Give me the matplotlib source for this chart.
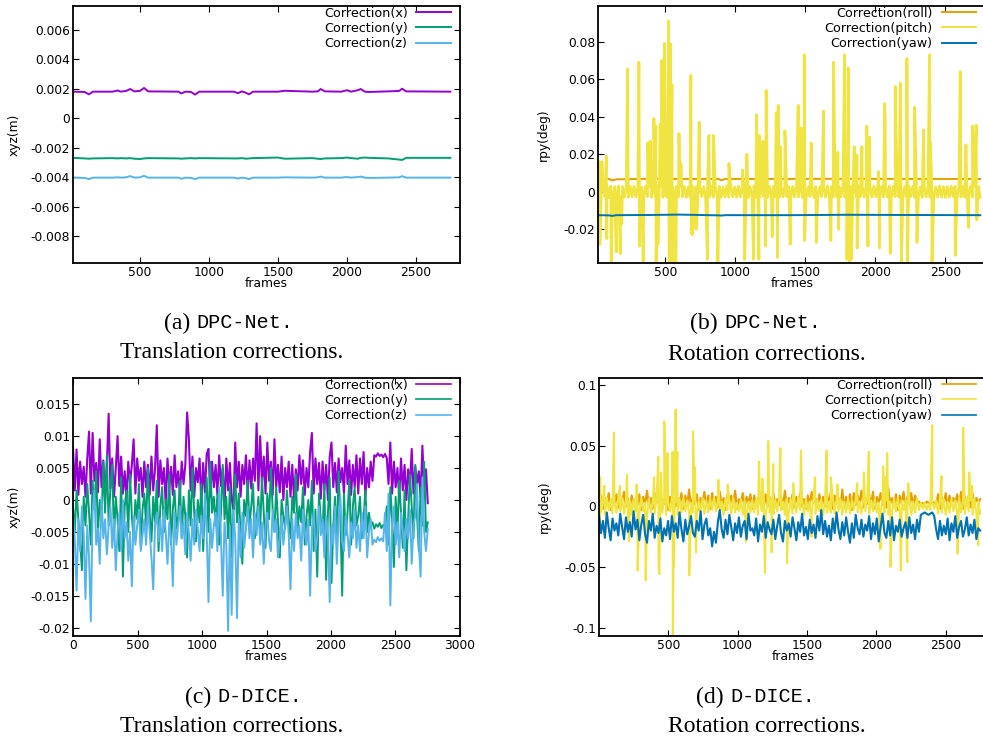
import numpy as np
import matplotlib
matplotlib.use("Agg")
import matplotlib.pyplot as plt
from matplotlib.ticker import FormatStrFormatter

plt.rcParams['font.family'] = 'DejaVu Sans'
plt.rcParams['axes.unicode_minus'] = False
plt.rcParams['path.simplify'] = False   # keep every wiggle of the noisy traces

# ---- (a) DPC-Net translation corrections (units of 1e-3 m) ----
a_frames = [15, 100, 130, 160, 300, 340, 360, 400, 430, 460, 500, 530, 560, 780, 800,
            830, 870, 900, 930, 1180, 1210, 1240, 1270, 1290, 1320, 1500, 1550, 1750,
            1790, 1810, 1840, 1960, 2000, 2030, 2080, 2100, 2130, 2160, 2300, 2380,
            2400, 2430, 2750]
a_x = [1.80, 1.78, 1.62, 1.80, 1.80, 1.88, 1.80, 1.85, 1.98, 1.82, 1.85, 2.05, 1.82,
       1.80, 1.68, 1.80, 1.78, 1.60, 1.80, 1.80, 1.70, 1.82, 1.72, 1.62, 1.80, 1.80,
       1.86, 1.80, 1.82, 1.98, 1.82, 1.80, 1.90, 1.80, 1.90, 1.98, 1.80, 1.78, 1.82,
       1.85, 2.00, 1.82, 1.80]
a_y = [-2.68, -2.72, -2.74, -2.72, -2.70, -2.72, -2.70, -2.72, -2.70, -2.74,
       -2.76, -2.72, -2.70, -2.72, -2.74, -2.72, -2.70, -2.72, -2.70, -2.72,
       -2.72, -2.70, -2.74, -2.72, -2.70, -2.66, -2.74, -2.70, -2.74, -2.76,
       -2.72, -2.70, -2.66, -2.70, -2.74, -2.68, -2.66, -2.68, -2.72, -2.80,
       -2.82, -2.68, -2.68]
a_z = [-4.02, -4.04, -4.12, -4.02, -4.02, -4.00, -4.02, -4.00, -3.92, -4.02,
       -4.00, -3.90, -4.02, -4.02, -4.10, -4.02, -4.04, -4.12, -4.02, -4.02,
       -4.08, -4.02, -4.06, -4.12, -4.02, -4.02, -4.00, -4.02, -4.00, -3.95,
       -4.02, -4.02, -3.98, -4.02, -3.98, -3.95, -4.02, -4.04, -4.02, -4.00,
       -3.92, -4.02, -4.02]

# ---- (b) DPC-Net rotation corrections (units of 1e-3 deg) ----
b_frames = [1, 100, 120, 150, 400, 600, 880, 900, 930, 1400, 1800, 2200, 2750]
b_roll = [6.8, 6.8, 6.0, 6.6, 6.9, 6.8, 6.8, 6.1, 6.8, 6.8, 6.9, 6.8, 6.8]
b_yaw = [-12.5, -12.6, -12.9, -12.5, -12.4, -12.2, -12.6, -12.7, -12.5, -12.5,
         -12.3, -12.4, -12.5]
b_pitch_band = [
    2.8, -3.0, 2.6, -2.9, 3.0, -2.7, 2.5, -3.1, 2.9, -2.8, 2.7, -3.0, 3.1, -2.6, 2.8, -2.9, 2.6, -3.0, 2.9, -2.7,
    3.0, -2.8, 2.7, -3.1, 2.5, -2.9, 3.0, -2.6, 2.8, -3.0, 2.6, -2.8, 3.1, -2.7, 2.9, -3.0, 2.7, -2.9, 2.8, -2.6,
    2.6, -3.1, 2.9, -2.8, 3.0, -2.7, 2.8, -3.0, 2.5, -2.9, 3.1, -2.8, 2.7, -3.0, 2.9, -2.6, 2.8, -3.1, 2.6, -2.8,
    3.0, -2.9, 2.7, -2.6, 2.9, -3.0, 2.6, -2.8, 3.1, -2.9, 2.8, -2.7, 2.6, -3.0, 3.0, -2.8, 2.7, -2.9, 2.9, -3.1,
    2.8, -2.7, 3.1, -3.0, 2.6, -2.8, 2.9, -2.6, 2.7, -3.1, 3.0, -2.9, 2.8, -2.7, 2.6, -3.0, 2.9, -2.8, 3.1, -2.6,
    2.7, -3.0, 2.8, -2.9, 3.0, -2.7, 2.6, -3.1, 2.9, -2.8, 2.7, -2.6, 3.0, -3.0, 2.8, -2.9, 2.6, -2.7, 2.9, -3.0,
    3.1, -2.8, 2.7, -2.9, 2.8, -3.0, 2.6, -2.7, 3.0, -2.9, 2.9, -3.1, 2.7, -2.8, 2.6, -3.0, 3.1, -2.6, 2.8, -2.9,
    2.9, -3.0, 2.6, -2.8, 3.0, -2.7, 2.8, -3.1, 2.7, -2.9, 2.6, -2.8, 3.1, -3.0, 2.9, -2.7, 2.8, -2.9, 2.6, -3.0,
    2.7, -2.9, 3.0, -2.6, 2.8, -3.0, 2.9, -2.8, 2.6, -3.1, 3.0, -2.7, 2.7, -2.9, 2.8, -3.0, 2.6, -2.8, 3.1, -2.9,
    2.8, -3.1, 2.7, -2.9, 3.0, -2.6, 2.9, -3.0, 2.6, -2.8, 2.7, -3.0, 2.9, -2.7, 3.0, -2.9, 2.8, -2.6, 2.7, -3.0]
b_spike_frames = [31, 48, 79, 231, 312, 374, 393, 419, 433, 464, 476, 495, 524, 536, 548,
                  598, 612, 683, 743, 812, 845, 955, 1052, 1083, 1152, 1171, 1198, 1221,
                  1293, 1307, 1324, 1355, 1450, 1471, 1493, 1543, 1631, 1702, 1733, 1781,
                  1807, 1850, 1869, 1905, 1940, 1960, 2024, 2067, 2071, 2143, 2179, 2226,
                  2281, 2345, 2388, 2393, 2607, 2648, 2695, 2721,
                  33, 83, 114, 150, 179, 190, 317, 343, 435, 448, 529, 550, 576, 686, 693,
                  700, 710, 721, 728, 802, 876, 1067, 1131, 1169, 1217, 1264, 1302, 1393,
                  1495, 1579, 1683, 1738, 1798, 1814, 1829, 1871, 1948, 2031, 2107, 2186,
                  2231, 2298, 2405, 2571, 2667, 2726]
b_spike_vals = [16, 16, 19, 65.5, 69, 26, 27, 39, 35, 36, 70, 79, 91, 79, 57,
                31, 15, 62, 37, 30, 30, 15, 11.6, 20, 41, 30, 27, 54,
                42, 46, 24, 32.5, 46, 34, 73, 26, 43, 69, 21, 73,
                66, 24, 19.6, 24, 35, 29, 10.7, 47, 36, 56, 58, 71,
                45, 33, 73, 26, 64, 25, 35, 35.5,
                -28, -25, -40, -32, -33, -17, -29, -40, -40, -28, -40, -40, -40, -22, -23,
                -18, -15, -20, -12, -36, -40, -36, -36, -36, -29, -24, -35, -28,
                -26, -27, -26, -20, -36, -40, -36, -30, -29, -30, -33, -40,
                -37, -27, -40, -34, -19, -15]

# ---- (c) D-DICE translation corrections (units of 1e-3 m) ----
c_x = [8.2, 1.5, 7.9, 0.8, 6.0, 2.5, 5.2, 0.5, 6.5, 10.7, 1.0, 10.5, 3.0, 5.8, 1.2, 9.5, 2.0, 6.2, 0.5, 5.5,
       13.5, 1.8, 6.5, 0.5, 5.0, 10.0, 2.2, 6.8, 1.0, 4.5, 0.2, 6.0, 2.5, 5.5, 9.5, 1.0, 6.5, 3.0, 5.0, 0.5,
       6.0, 2.0, 5.5, 0.8, 6.8, 1.5, 4.8, 11.7, 0.5, 6.2, 2.5, 5.0, -0.5, 6.5, 1.8, 5.2, 0.8, 7.0, 2.0, 4.5,
       1.0, 6.0, 2.5, 5.5, 13.7, 9.5, 1.5, 6.8, 0.5, 5.0, 2.8, 6.5, -0.5, 5.8, 1.2, 7.2, 8.0, 0.5, 6.0, 2.0,
       5.5, 0.8, 7.0, 2.2, 5.0, -1.0, 6.5, 1.5, 5.8, 0.2, -1.5, 9.0, 2.0, 6.0, 0.5, 5.5, 2.5, 7.0, 1.0, 6.2,
       1.8, 6.5, 3.0, 12.0, 1.5, 10.0, 2.5, 6.8, 1.0, 9.0, 3.0, 6.0, 0.8, 9.5, 2.0, 5.5, 1.2, 6.8, 0.0, 5.0,
       2.0, 6.0, 0.5, 5.5, 0.0, 4.8, 1.5, 7.0, 2.5, 6.2, 0.8, 5.0, 2.0, 7.5, 10.5, 1.0, 6.5, 2.5, 5.8, 0.2,
       6.0, 1.5, 5.5, 0.0, 6.8, 9.0, 2.0, 5.8, 1.2, 6.5, 2.8, 5.0, 1.0, 8.5, 2.5, 6.2, 0.8, 5.5, 2.0, 7.0,
       1.0, 6.5, 2.5, 7.5, 0.5, 5.0, 2.0, 6.0, 3.0, 7.0, 6.8, 7.3, 6.9, 7.1, 6.7, 7.2, 6.6, 2.5, 9.0, 1.0,
       6.0, 2.0, 5.0, 0.5, 6.5, 1.5, 5.5, 0.0, 4.8, 2.0, 8.0, 1.0, 5.2, 2.5, 4.5, 0.5, 8.5, 1.5, 4.8, -0.5]
c_y = [-1.0, -5.0, 1.5, -3.0, -6.5, -11.0, 0.5, -4.0, 2.5, -2.0, -7.0, 3.0, -1.5, 4.5, -5.0, 0.0, -3.5, 6.0, -2.0, 7.0,
       -4.0, 2.0, 5.5, -6.0, 0.5, -3.0, -8.0, 3.5, -12.0, -1.0, 1.5, -5.0, 4.0, -2.5, -6.0, 0.0, -3.0, 2.5, -7.0, -1.5,
       1.0, -4.0, 5.0, -2.0, -6.5, 0.5, -3.5, 3.0, -8.0, -1.0, 2.0, -5.0, 0.0, -3.0, 4.0, -7.0, -1.5, 1.5, -4.5, -2.5,
       3.0, -6.0, 0.5, -2.5, -9.0, 1.5, -4.0, 5.0, -2.0, -6.5, 0.0, -3.5, 2.5, -8.0, -1.0, 3.5, -5.0, 6.0, -2.0, 0.5,
       -4.0, 1.0, -7.0, -2.0, 5.5, -3.0, 0.5, -6.0, 2.0, -9.0, -1.5, 4.0, -3.5, 1.0, -5.5, -10.0, 0.0, -2.5, 3.0, -4.0,
       -1.0, 2.5, -6.0, -3.0, 0.5, -4.5, 3.5, -2.0, -7.5, 1.0, -3.0, 5.0, -1.5, -5.0, 2.0, -3.5, -9.0, 0.0, -2.5, -4.5,
       1.5, -3.0, -6.0, 0.5, -2.0, 4.0, -5.0, -1.0, -3.5, 2.0, -7.0, -2.5, 0.0, -4.0, 3.0, -8.0, -1.5, -12.0, 1.0, -3.0,
       -5.0, 2.5, -12.5, -2.0, 3.5, -13.0, -4.0, 0.5, -6.5, 4.5, -3.0, -15.0, 1.0, -5.5, -2.0, 3.0, -7.0, -1.0, 2.0, -4.0,
       -2.5, 0.5, -6.0, -3.0, 1.5, -5.0, -2.0, -4.0, -3.5, -4.5, -3.8, -4.2, -3.6, -4.4, -3.9, -4.1, -1.0, -7.0, 2.0, -3.0,
       -10.5, 0.5, -5.0, 3.0, -2.0, -7.5, 1.5, -11.0, -3.0, 4.0, -1.0, -6.0, 5.5, -2.5, -8.0, 2.0, -4.0, 6.0, -5.0, -3.5]
c_z = [-2.0, -6.0, -14.2, -3.0, -8.0, -1.0, -5.5, -15.5, -4.0, -9.0, -19.0, -2.0, 1.5, -7.0, -4.5, -10.0, 0.5, -6.0, -3.0, -8.5,
       -4.0, -1.0, -7.5, -3.0, -11.0, -5.0, -2.0, -8.0, 0.0, -6.0, -3.5, -9.5, -5.0, -13.5, -2.5, -7.0, -4.0, -1.5, -8.0, -5.5,
       -3.0, -7.0, -1.0, -5.0, -9.0, -14.0, -4.0, -2.0, -6.5, -3.0, -8.0, -1.5, -5.0, -10.0, -3.5, -6.0, -13.5, -2.0, -7.0, -4.0,
       -1.0, -6.0, -3.5, -8.5, -2.0, -5.0, -9.5, -3.0, -7.0, -1.5, -4.5, -8.0, -2.5, -6.0, 1.0, -5.0, -16.0, -3.0, -7.5, -4.0,
       -2.0, -8.0, 2.0, -6.0, -15.0, -3.5, -7.0, -20.5, -4.0, -18.0, -1.5, -6.0, -18.5, -3.0, -9.0, -2.0, -7.5, -4.5, -1.0, -6.0,
       -3.0, -9.0, -2.0, -5.5, -1.0, -7.0, -3.5, -10.0, -4.0, -2.0, -6.5, -8.0, -1.5, -5.0, -3.0, -9.0, -6.0, -2.5, -7.0, -4.0,
       -1.0, -5.5, -14.0, -3.0, -8.0, -2.0, -6.0, -4.0, -9.5, -1.5, -5.0, -7.0, -3.0, -15.0, -4.5, -2.0, -8.0, -6.0, -1.0, -5.5,
       -3.0, -9.0, -2.5, -5.0, -16.0, -4.0, -7.0, -1.0, -10.0, -3.0, 0.5, -6.5, -8.0, -2.5, -5.5, -9.0, -3.5, -6.0, -1.5, -7.5,
       -4.0, -8.0, -2.0, -6.0, -1.0, -9.0, -5.0, -3.0, -7.0, -6.2, -6.6, -5.8, -6.4, -6.0, -6.5, -2.0, -8.0, 1.0, -16.5, -4.0,
       -1.0, -7.0, -3.5, -9.0, -2.0, -5.0, -8.0, -3.0, -6.0, -1.5, -10.0, -4.0, -2.5, 2.5, -7.0, -12.0, 3.5, -5.0, -8.0, -4.5]

# ---- (d) D-DICE rotation corrections (units of 1e-3 deg) ----
d_roll = [3, 9, -2, 7, 1, 11, -3, 6, 2, 10, -1, 8, 4, 12, 0, 7, -2, 9, 3, 6,
          1, 10, -3, 8, 2, 13, 0, 7, -2, 11, 3, 9, -1, 6, 2, 12, -3, 8, 1, 10,
          0, 7, 3, 11, -2, 9, 1, 14, -1, 8, 2, 10, -3, 7, 4, 12, 0, 9, -2, 11,
          2, 8, -1, 12, 1, 7, -3, 10, 3, 9, 0, 13, -2, 6, 2, 11, -1, 8, 3, 10,
          -2, 9, 1, 7, 3, 12, -1, 10, 0, 8, -3, 11, 2, 6, 1, 9, -2, 13, 0, 7,
          3, 10, -1, 8, 2, 11, 0, 6, -2, 9, 1, 12, 3, 7, -1, 10, 2, 8, 0, 11,
          1, 12, -2, 9, 3, 7, 0, 14, -1, 8, 2, 10, -3, 11, 1, 9, 3, 13, -1, 7,
          2, 10, 0, 12, -2, 8, 3, 11, 1, 9, -1, 15, 2, 7, 0, 10, -3, 9, 2, 12,
          -1, 8, 2, 11, 0, 9, 3, 4, 2, 3, 1, 4, 3, 2, 4, 3, 1, 10, -2, 8,
          2, 11, -1, 9, 1, 7, 3, 10, 0, 12, -2, 8, 2, 9, -1, 11, 1, 7, 3, 6]
d_pitch_band = [6, -5, 4, -7, 7, -3, 5, -6, 3, -5, 6, -4, 7, -6, 4, -5, 5, -7, 6, -4,
                5, -6, 7, -4, 3, -7, 6, -5, 4, -6, 7, -3, 5, -5, 6, -7, 4, -4, 7, -6,
                4, -7, 6, -5, 7, -4, 5, -6, 3, -5, 6, -7, 4, -4, 7, -6, 5, -5, 6, -3,
                7, -4, 5, -6, 4, -7, 6, -3, 5, -6, 7, -5, 3, -4, 6, -7, 5, -6, 4, -5,
                5, -5, 6, -7, 4, -4, 7, -6, 3, -5, 6, -6, 5, -4, 7, -3, 4, -7, 6, -5,
                6, -6, 4, -5, 7, -3, 5, -7, 6, -4, 4, -5, 7, -6, 5, -4, 6, -7, 3, -5,
                4, -5, 7, -6, 5, -4, 6, -7, 4, -5, 7, -6, 5, -3, 6, -5, 4, -6, 7, -4,
                7, -6, 5, -4, 6, -5, 3, -6, 7, -5, 5, -7, 4, -5, 6, -4, 7, -6, 5, -3,
                5, -4, 6, -7, 4, -5, 7, -3, 3, -2, 3, -3, 2, -3, 3, -2, 5, -6, 6, -5,
                6, -7, 4, -5, 6, -4, 5, -6, 7, -5, 4, -6, 7, -4, 5, -7, 6, -5, 4, -6]
d_spike_frames = [8, 38, 108, 151, 202, 272, 397, 428, 447, 471, 495, 531, 553, 565,
                  678, 692, 861, 928, 1154, 1178, 1221, 1257, 1308, 1401, 1457, 1558,
                  1642, 1673, 1721, 1863, 1911, 1947, 2050, 2063, 2079, 2231, 2404,
                  2471, 2627, 2671, 2692,
                  5, 216, 279, 337, 430, 435, 533, 541, 651, 700, 1060, 1197, 1245,
                  1356, 1534, 2031, 2103, 2178, 2224, 2587, 2736]
d_spike_vals = [24, 17, 61, 17, 26, 18, 24, 41, 28, 70, 44, 45, 80, 45,
                62, 32, 22, 18, 37, 23, 54, 35, 48, 19, 46, 24,
                46, 24, 18, 19, 28, 45, 33, 24, 44, 19, 67,
                25, 65, 28, 17,
                -18, -29, -53, -61, -50, -56, -110, -49, -57, -38, -29, -55, -38,
                -47, -25, -35, -50, -53, -46, -39, -32]
d_yaw = [-8, -22, -12, -26, -5, -18, -28, -10, -20, -14, -24, -6, -17, -27, -9, -21, -13, -25, -4, -19,
         -11, -28, -15, -7, -23, -30, -12, -20, -6, -26, -16, -22, -10, -29, -18, -24, -12, -27, -8, -21,
         -14, -26, -5, -19, -29, -11, -23, -16, -8, -22, -25, -12, -20, -4, -27, -15, -10, -24, -18, -33,
         -21, -30, -13, -3, -19, -26, -11, -23, -7, -17, -28, -14, -22, -9, -25, -16, -12, -27, -6, -20,
         -18, -24, -10, -29, -15, -21, -8, -26, -13, -19, -23, -11, -27, -16, -7, -22, -29, -12, -20, -14,
         -25, -9, -18, -28, -13, -21, -6, -24, -17, -27, -11, -22, -15, -26, -8, -20, -3, -23, -12, -25,
         -16, -28, -10, -22, -5, -19, -27, -13, -24, -9, -21, -30, -14, -26, -7, -18, -23, -11, -25, -15,
         -20, -8, -27, -14, -23, -10, -29, -17, -6, -22, -26, -12, -24, -9, -28, -16, -21, -11, -25, -18,
         -13, -26, -9, -22, -15, -27, -11, -21, -7, -6, -5, -6, -7, -6, -5, -8, -19, -27, -12, -24,
         -16, -23, -10, -28, -14, -21, -8, -26, -17, -12, -25, -19, -9, -24, -15, -22, -11, -27, -18, -20]

C_X, C_Y, C_Z = '#9400d3', '#009e73', '#56b4e9'
C_ROLL, C_PITCH, C_YAW = '#e69f00', '#f0e442', '#0072b2'
W, H = 983, 740


def px_axes(fig, left, right, top, bottom):
    return fig.add_axes([left / W, 1 - bottom / H, (right - left) / W, (bottom - top) / H])


def merge(bx, by, sx, sy):
    x = np.concatenate([bx, sx])
    y = np.concatenate([by, sy])
    o = np.argsort(x, kind='stable')
    return x[o], y[o]


def style(ax, xlim, ylim, yticks, xticks, ylabel, ycoord, xcenter):
    ax.set_xlim(*xlim)
    ax.set_ylim(*ylim)
    ax.set_yticks(yticks)
    ax.set_xticks(xticks)
    ax.yaxis.set_major_formatter(FormatStrFormatter('%g'))
    ax.tick_params(direction='in', length=4, width=0.8, top=True, right=True,
                   labelsize=8.8, pad=2, colors='black')
    for s in ax.spines.values():
        s.set_linewidth(1.3)
    ax.set_ylabel(ylabel, fontsize=8.8)
    ax.yaxis.set_label_coords(ycoord, 0.5)
    ax.set_xlabel('frames', fontsize=8.8, labelpad=0)
    ax.xaxis.set_label_coords(xcenter, -0.056)


def legend(ax, xa, lw):
    lg = ax.legend(loc='upper right', bbox_to_anchor=(xa, 0.997), frameon=False,
                   markerfirst=False, fontsize=9.2, handlelength=2.7, handletextpad=0.7,
                   labelspacing=0.17, borderpad=0, borderaxespad=0)
    for h in lg.get_lines():
        h.set_linewidth(lw)


fig = plt.figure(figsize=(W / 100, H / 100), dpi=100)

# (a)
ax = px_axes(fig, 73, 460, 6, 263)
ax.plot(a_frames, np.array(a_x) * 1e-3, color=C_X, lw=1.4, label='Correction(x)')
ax.plot(a_frames, np.array(a_y) * 1e-3, color=C_Y, lw=1.4, label='Correction(y)')
ax.plot(a_frames, np.array(a_z) * 1e-3, color=C_Z, lw=1.4, label='Correction(z)')
style(ax, (15, 2820), (-0.0098, 0.0076), np.arange(-0.008, 0.0061, 0.002),
      [500, 1000, 1500, 2000, 2500], 'xyz(m)', -0.135, 0.5)
legend(ax, (451 - 73) / 387, 1.4)

# (b)
ax = px_axes(fig, 598, 1000, 6, 263)
bx = np.linspace(1, 2750, len(b_pitch_band))
px, py = merge(bx, np.array(b_pitch_band), np.array(b_spike_frames), np.array(b_spike_vals))
ax.plot(b_frames, np.array(b_roll) * 1e-3, color=C_ROLL, lw=1.4, label='Correction(roll)')
ax.plot(px, py * 1e-3, color=C_PITCH, lw=2.0, label='Correction(pitch)')
ax.plot(b_frames, np.array(b_yaw) * 1e-3, color=C_YAW, lw=1.4, label='Correction(yaw)')
style(ax, (20, 2891), (-0.038, 0.099), [-0.02, 0, 0.02, 0.04, 0.06, 0.08],
      [500, 1000, 1500, 2000, 2500], 'rpy(deg)', -0.12, 0.483)
legend(ax, (976 - 598) / 402, 1.4)

# (c)
ax = px_axes(fig, 73, 460, 378, 636)
cf = np.linspace(0, 2750, len(c_x))
ax.plot(cf, np.array(c_x) * 1e-3, color=C_X, lw=1.5, label='Correction(x)')
ax.plot(cf, np.array(c_y) * 1e-3, color=C_Y, lw=1.4, label='Correction(y)')
ax.plot(cf, np.array(c_z) * 1e-3, color=C_Z, lw=1.4, label='Correction(z)')
style(ax, (0, 3000), (-0.0213, 0.0191), [-0.02, -0.015, -0.01, -0.005, 0, 0.005, 0.01, 0.015],
      [0, 500, 1000, 1500, 2000, 2500, 3000], 'xyz(m)', -0.135, 0.5)
legend(ax, (451 - 73) / 387, 1.2)

# (d)
ax = px_axes(fig, 599, 1000, 378, 636)
df = np.linspace(1, 2750, len(d_roll))
qx, qy = merge(np.linspace(1, 2750, len(d_pitch_band)), np.array(d_pitch_band),
               np.array(d_spike_frames), np.array(d_spike_vals))
ax.plot(df, np.array(d_roll) * 1e-3, color=C_ROLL, lw=1.5, label='Correction(roll)')
ax.plot(qx, qy * 1e-3, color=C_PITCH, lw=1.5, label='Correction(pitch)')
ax.plot(df, np.array(d_yaw) * 1e-3, color=C_YAW, lw=1.5, label='Correction(yaw)')
style(ax, (0, 2893), (-0.107, 0.106), [-0.1, -0.05, 0, 0.05, 0.1],
      [500, 1000, 1500, 2000, 2500], 'rpy(deg)', -0.12, 0.483)
legend(ax, (976 - 599) / 401, 1.2)

# captions
def caption(xsplit, y, tag, name, y2, line2, xc):
    fig.text(xsplit / W, 1 - y / H, tag, ha='right', va='center',
             family='Liberation Serif', fontsize=17)
    fig.text(xsplit / W, 1 - y / H, name, ha='left', va='center',
             family='Liberation Mono', fontsize=14.5)
    fig.text(xc / W, 1 - y2 / H, line2, ha='center', va='center',
             family='Liberation Serif', fontsize=17)

caption(196, 323, '(a) ', 'DPC-Net.', 353, 'Translation corrections.', 232)
caption(724, 323, '(b) ', 'DPC-Net.', 354, 'Rotation corrections.', 767)
caption(217, 697, '(c) ', 'D-DICE.', 726, 'Translation corrections.', 232)
caption(730, 697, '(d) ', 'D-DICE.', 726, 'Rotation corrections.', 767)

fig.savefig('out.png', dpi=100)
